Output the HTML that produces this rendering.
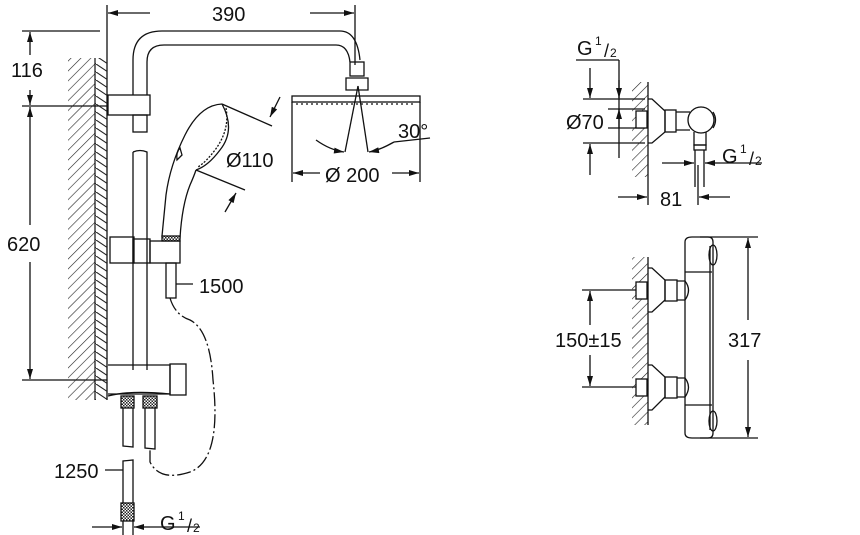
<!DOCTYPE html>
<html><head><meta charset="utf-8"><style>
html,body{margin:0;padding:0;background:#fff;}
svg{display:block;}
text{font-family:"Liberation Sans",sans-serif;fill:#111;}
</style></head><body>
<svg width="860" height="535" viewBox="0 0 860 535" xmlns="http://www.w3.org/2000/svg">
<defs>
<pattern id="hatch" width="7" height="7" patternUnits="userSpaceOnUse" patternTransform="rotate(45)">
<line x1="0" y1="0" x2="0" y2="7" stroke="#222" stroke-width="1.2"/>
</pattern>
<pattern id="chev" width="12" height="8" patternUnits="userSpaceOnUse">
<path d="M0,0 L12,8" stroke="#222" stroke-width="1.1" fill="none"/>
</pattern>
<pattern id="knurl" width="3" height="3" patternUnits="userSpaceOnUse">
<rect width="3" height="3" fill="#fff"/><rect width="1.5" height="1.5" fill="#222"/><rect x="1.5" y="1.5" width="1.5" height="1.5" fill="#222"/>
</pattern>
<marker id="ar" viewBox="0 0 10 6" refX="10" refY="3" markerWidth="13" markerHeight="6" markerUnits="userSpaceOnUse" orient="auto">
<path d="M0,0 L10,3 L0,6z" fill="#111"/>
</marker>
</defs>
<g stroke="#111" stroke-width="1.3" fill="none">
<line x1="107" y1="5" x2="107" y2="400"/>
<line x1="355" y1="5" x2="355" y2="65"/>
<line x1="150" y1="13" x2="108" y2="13" marker-end="url(#ar)"/>
<line x1="310" y1="13" x2="354" y2="13" marker-end="url(#ar)"/>
<line x1="22" y1="31" x2="100" y2="31"/>
<line x1="22" y1="106" x2="107" y2="106"/>
<line x1="22" y1="380" x2="107" y2="380"/>
<line x1="30" y1="55" x2="30" y2="32" marker-end="url(#ar)"/>
<line x1="30" y1="90" x2="30" y2="105" marker-end="url(#ar)"/>
<line x1="30" y1="120" x2="30" y2="107" marker-end="url(#ar)"/>
<line x1="30" y1="262" x2="30" y2="379" marker-end="url(#ar)"/>
<line x1="30" y1="120" x2="30" y2="225"/>
</g>
<rect x="68" y="58" width="27" height="342" fill="url(#hatch)"/>
<rect x="95" y="58" width="12" height="342" fill="url(#chev)"/>
<line x1="95" y1="58" x2="95" y2="400" stroke="#111" stroke-width="1.2"/>
<g stroke="#111" stroke-width="1.3" fill="none">
<path d="M133,95 L133,60 Q133,31 162,31 L340,31 Q357,31 360,60"/>
<path d="M147,95 L147,62 Q147,45 164,45 L336,45 Q348,45 350,62"/>
<rect x="350" y="62" width="14" height="14"/>
<path d="M346,78 L368,78 L368,90 L346,90 Z"/>
<rect x="292" y="96" width="128" height="6"/>
<path d="M296,104 L416,104" stroke-dasharray="2,3"/>
<line x1="358" y1="86" x2="345" y2="152"/>
<line x1="358" y1="86" x2="368" y2="152"/>
<path d="M316,140 Q330,150 344,152" marker-end="url(#ar)"/>
<path d="M394,142 Q380,150 369,152" marker-end="url(#ar)"/>
<line x1="394" y1="142" x2="430" y2="138"/>
<line x1="292" y1="102" x2="292" y2="182"/>
<line x1="420" y1="102" x2="420" y2="182"/>
<line x1="320" y1="173" x2="293" y2="173" marker-end="url(#ar)"/>
<line x1="392" y1="173" x2="419" y2="173" marker-end="url(#ar)"/>
<rect x="108" y="95" width="42" height="20"/>
<rect x="133" y="115" width="14" height="17"/>
<path d="M133,152 Q140,149 147,152 L147,370 M133,152 L133,370"/>
<path d="M222,104 Q200,105 185,135 Q170,165 166,195 L162,236 L180,238 Q182,205 190,185 Q194,176 196,170"/>
<path d="M222,104 Q236,130 220,150 Q208,166 196,170"/>
<path d="M226,108 Q230,130 215,150 Q206,162 198,167" stroke-dasharray="2,1.5"/>
<path d="M180,148 Q176,152 177,160 L182,155 Z"/>
<rect x="162" y="236" width="18" height="5" fill="url(#knurl)"/>
<line x1="222" y1="104" x2="272" y2="126"/>
<line x1="196" y1="170" x2="245" y2="190"/>
<line x1="280" y1="97" x2="270" y2="117" marker-end="url(#ar)"/>
<line x1="225" y1="212" x2="236" y2="193" marker-end="url(#ar)"/>
<rect x="110" y="237" width="24" height="26"/>
<rect x="133" y="239" width="17" height="24"/>
<rect x="150" y="241" width="30" height="22"/>
<rect x="166" y="263" width="10" height="35"/>
<line x1="176" y1="284" x2="193" y2="284"/>
<path d="M108,365 L170,365 L170,394 L108,394"/>
<rect x="170" y="364" width="16" height="31"/>
<path d="M108,396 Q130,390 170,394"/>
<rect x="121" y="396" width="13" height="12" fill="url(#knurl)"/>
<rect x="143" y="396" width="14" height="12" fill="url(#knurl)"/>
<path d="M123,408 L123,446 L133,447 L133,408"/>
<path d="M145,408 L145,448 L155,449 L155,408"/>
<path d="M123,535 L123,461 L133,460 L133,535"/>
<rect x="121" y="503" width="13" height="18" fill="url(#knurl)"/>
<line x1="105" y1="470" x2="123" y2="470"/>
<line x1="92" y1="527" x2="122" y2="527" marker-end="url(#ar)"/>
<line x1="150" y1="527" x2="134" y2="527" marker-end="url(#ar)"/>
<line x1="150" y1="527" x2="200" y2="527"/>
<path d="M170,298 Q175,315 190,320 Q210,330 213,380 Q222,460 190,472 Q160,482 150,462 L150,449" stroke-dasharray="14,3,2,3"/>

<line x1="576" y1="60" x2="619" y2="60"/>
<line x1="619" y1="60" x2="619" y2="158"/>
<line x1="619" y1="80" x2="619" y2="98" marker-end="url(#ar)"/>
<line x1="619" y1="128" x2="619" y2="109" marker-end="url(#ar)"/>
<line x1="583" y1="99" x2="645" y2="99"/>
<line x1="583" y1="143" x2="645" y2="143"/>
<line x1="590" y1="68" x2="590" y2="98" marker-end="url(#ar)"/>
<line x1="590" y1="175" x2="590" y2="144" marker-end="url(#ar)"/>
<line x1="608" y1="109" x2="645" y2="109"/>
<line x1="608" y1="128" x2="645" y2="128"/>
<line x1="648" y1="82" x2="648" y2="205"/>
<path d="M648,99 L652,99 L665,111 L665,132 L652,143 L648,143"/>
<rect x="665" y="110" width="11" height="22"/>
<path d="M676,112 L690,112 M676,130 L690,130"/>
<circle cx="701" cy="120" r="13"/>
<path d="M713,112 Q718,120 713,128"/>
<path d="M694,132 L694,145 L706,145 L706,132"/>
<rect x="694" y="145" width="12" height="5"/>
<line x1="695" y1="150" x2="695" y2="187"/>
<line x1="704" y1="150" x2="704" y2="187"/>
<line x1="662" y1="163" x2="694" y2="163" marker-end="url(#ar)"/>
<line x1="720" y1="163" x2="705" y2="163" marker-end="url(#ar)"/>
<line x1="720" y1="163" x2="762" y2="163"/>
<line x1="698" y1="165" x2="698" y2="205"/>
<line x1="618" y1="197" x2="647" y2="197" marker-end="url(#ar)"/>
<line x1="730" y1="197" x2="699" y2="197" marker-end="url(#ar)"/>

<line x1="648" y1="257" x2="648" y2="425"/>
<path d="M685,242 Q685,237 692,237 L708,237 Q713,237 713,242 L713,433 Q713,438 708,438 L692,438 Q685,438 685,433 Z"/>
<line x1="710" y1="246" x2="710" y2="430"/>
<line x1="685" y1="272" x2="712" y2="272"/>
<line x1="685" y1="405" x2="712" y2="405"/>
<ellipse cx="713" cy="255" rx="4" ry="10"/>
<ellipse cx="713" cy="421" rx="4" ry="10"/>
<line x1="700" y1="237" x2="758" y2="237"/>
<line x1="700" y1="438" x2="758" y2="438"/>
<line x1="748" y1="320" x2="748" y2="238" marker-end="url(#ar)"/>
<line x1="748" y1="360" x2="748" y2="437" marker-end="url(#ar)"/>
<path d="M648,268 L652,268 L665,280 L665,300 L652,312 L648,312"/>
<rect x="665" y="280" width="12" height="21"/>
<path d="M677,281 L685,281 Q692,290 685,300 L677,300"/>
<path d="M648,365 L652,365 L665,377 L665,397 L652,410 L648,410"/>
<rect x="665" y="377" width="12" height="21"/>
<path d="M677,378 L685,378 Q692,387 685,397 L677,397"/>
<line x1="582" y1="290" x2="645" y2="290"/>
<line x1="582" y1="387" x2="645" y2="387"/>
<line x1="590" y1="325" x2="590" y2="291" marker-end="url(#ar)"/>
<line x1="590" y1="355" x2="590" y2="386" marker-end="url(#ar)"/>
</g>
<rect x="632" y="82" width="16" height="95" fill="url(#hatch)"/>
<rect x="632" y="257" width="16" height="168" fill="url(#hatch)"/>
<rect x="636" y="111" width="11" height="17" fill="#fff" stroke="#111" stroke-width="1.3"/>
<rect x="636" y="282" width="11" height="17" fill="#fff" stroke="#111" stroke-width="1.3"/>
<rect x="636" y="379" width="11" height="17" fill="#fff" stroke="#111" stroke-width="1.3"/>
<g font-size="20">
<text x="212" y="21">390</text>
<text x="11" y="77">116</text>
<text x="7" y="251">620</text>
<text x="226" y="167">Ø110</text>
<text x="398" y="138">30°</text>
<text x="325" y="182">Ø 200</text>
<text x="199" y="293">1500</text>
<text x="54" y="478">1250</text>
<text x="160" y="530">G</text>
<text x="577" y="55">G</text>
<text x="722" y="163">G</text>
<text x="566" y="129">Ø70</text>
<text x="660" y="206">81</text>
<text x="555" y="347">150±15</text>
<text x="728" y="347">317</text>
</g>
<g font-size="12">
<text x="178" y="520">1</text><text x="187" y="532" font-size="18">/</text><text x="193" y="532">2</text>
<text x="595" y="45">1</text><text x="604" y="57" font-size="18">/</text><text x="610" y="57">2</text>
<text x="740" y="153">1</text><text x="749" y="165" font-size="18">/</text><text x="755" y="165">2</text>
</g>
</svg>
</body></html>
